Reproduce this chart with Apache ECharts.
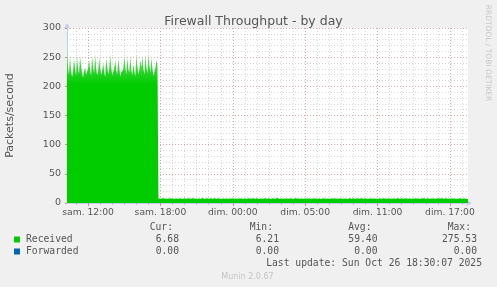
<!DOCTYPE html>
<html>
<head>
<meta charset="utf-8">
<script src="https://cdn.jsdelivr.net/npm/echarts@6/dist/echarts.min.js"></script>
<style>
html,body{margin:0;padding:0;background:#f0f0f0;}
#chart{width:497px;height:287px;}
</style>
</head>
<body>
<div id="chart"></div>
<script>
// ---- data ----
const titleText = 'Firewall Throughput - by day';
const yAxisName = 'Packets/second';
const tickLabels = ['sam. 12:00', 'sam. 18:00', 'dim. 00:00', 'dim. 05:00', 'dim. 11:00', 'dim. 17:00'];
const seriesNames = ['Received', 'Forwarded'];
const statCur = [6.68, 0.00];
const statMin = [6.21, 0.00];
const statAvg = [59.40, 0.00];
const statMax = [275.53, 0.00];
const lastUpdate = 'Last update: Sun Oct 26 18:30:07 2025';
const versionText = 'Munin 2.0.67';
const sideText = 'RRDTOOL / TOBI OETIKER';

// one value per 5-minute slot, starting sam. 10:15
const received = [
  275.5, 234, 220, 252, 228, 216, 224, 248, 232, 218, 253, 230, 221, 252, 236, 222, 215, 226, 232, 220,
  223, 231, 246, 228, 218, 252, 233, 222, 255, 231, 219, 226, 250, 232, 220, 227, 240, 224, 216, 248,
  235, 221, 229, 255, 233, 218, 225, 231, 245, 228, 220, 248, 232, 217, 224, 221, 229, 252, 234, 220,
  250, 230, 223, 252, 228, 219, 238, 226, 217, 255, 235, 221, 228, 245, 232, 252, 231, 220, 255, 233,
  222, 255, 236, 224, 250, 230, 218, 225, 232, 245, 236,
  7.6, 8.1, 7.4, 7.9, 8.3, 7.2, 7.7, 8.0, 7.5, 7.1, 7.8, 8.2, 7.6, 7.3, 7.9, 8.4, 7.5, 7.0, 7.7, 8.1,
  7.4, 7.8, 8.2, 7.3, 6.9, 7.6, 8.0, 7.7, 7.2, 7.9, 8.3, 7.5, 7.1, 7.8, 8.0, 7.4, 7.6, 8.2, 7.3, 7.0,
  7.7, 8.1, 7.5, 7.9, 8.4, 7.2, 6.8, 7.6, 8.0, 7.8, 7.3, 7.5, 8.2, 7.9, 7.1, 7.4, 8.0, 7.7, 7.2, 7.9,
  8.3, 7.6, 7.0, 7.5, 7.9, 8.1, 7.4, 7.2, 7.8, 8.2, 7.5, 6.9, 7.7, 8.0, 7.6, 7.3, 7.9, 8.3, 7.4, 7.1,
  7.6, 8.0, 7.8, 7.2, 7.5, 8.1, 7.7, 6.7, 7.4, 7.9, 8.2, 7.5, 7.3, 7.8, 8.0, 7.6, 7.1, 7.7, 8.3, 7.4,
  7.0, 7.6, 7.9, 8.1, 7.3, 7.5, 8.0, 7.7, 7.2, 7.8, 8.2, 7.4, 6.9, 7.6, 8.0, 7.5, 7.3, 7.9, 8.4, 7.6,
  7.1, 7.5, 7.8, 8.1, 7.4, 7.2, 7.9, 8.0, 7.6, 6.2, 7.3, 7.8, 8.2, 7.5, 7.0, 7.7, 8.0, 7.4, 7.6, 8.1,
  7.3, 7.1, 7.8, 8.3, 7.5, 7.2, 7.7, 8.0, 7.6, 7.4, 7.9, 8.2, 7.3, 6.9, 7.6, 8.0, 7.8, 7.2, 7.5, 8.1,
  7.7, 7.3, 7.0, 7.6, 8.0, 7.9, 7.4, 7.2, 7.8, 8.3, 7.5, 7.1, 7.7, 8.1, 7.6, 7.3, 7.9, 8.2, 7.4, 7.0,
  7.6, 8.0, 7.7, 7.3, 7.5, 8.1, 7.8, 7.2, 6.8, 7.6, 8.0, 7.5, 7.4, 7.9, 8.2, 7.6, 7.1, 7.7, 8.0, 7.4,
  7.2, 7.8, 8.1, 7.5, 7.3, 7.9, 8.3, 7.6, 7.0, 7.4, 7.8, 8.0, 7.7, 7.2, 7.5, 8.2, 7.9, 7.3, 6.9, 7.6,
  8.0, 7.5, 7.2, 7.7, 8.1, 7.8, 7.4, 7.1, 7.6, 8.0, 7.9, 7.3, 7.5, 8.2, 7.6, 7.0, 7.4, 7.8, 8.1, 7.5,
  7.3, 7.9, 8.0, 7.6, 7.2, 7.7, 8.3, 7.5, 7.1, 7.6, 7.9, 8.1, 7.4, 6.9, 7.7, 8.0, 7.6, 7.3, 7.8, 8.2,
  7.5, 7.1, 7.6, 7.9, 8.0, 7.4, 7.2, 7.8, 8.1, 7.6, 7.3, 7.5, 7.9, 8.2, 7.7, 7.0, 7.4, 7.8, 8.0, 7.5,
  7.6, 7.9, 8.2, 7.4, 7.1, 7.7, 8.0, 7.5, 7.3,
  7.2, 7.7, 8.1, 7.6, 7.3, 7.8, 8.0, 7.4, 6.9, 7.5, 7.9, 8.2, 7.6, 7.1, 7.4, 7.8, 8.0, 7.5, 7.2, 6.68
];

// time-slot categories (5 min steps from sam. 10:15, DST fall-back at dim. 03:00)
function pad(n){ return (n < 10 ? '0' : '') + n; }
const categories = [];
(function(){
  let day = 0, m = 10 * 60 + 15, dstDone = false;
  for (let i = 0; i < received.length; i++) {
    categories.push((day ? 'dim. ' : 'sam. ') + pad(Math.floor(m / 60)) + ':' + pad(m % 60));
    m += 5;
    if (m >= 1440) { m -= 1440; day = 1; }
    if (day === 1 && !dstDone && m === 180) { m = 120; dstDone = true; }
  }
})();

const isMajor = (i, v) => tickLabels.indexOf(v) >= 0;
const isMinor = (i, v) => v.slice(-3) === ':00' && tickLabels.indexOf(v) < 0;

const colRecv = '#00cc00', colFwd = '#0066b3';
const textCol = '#555';
const mono = '9.7px "DejaVu Sans Mono"';
const swatchColors = [colRecv, colFwd];

const graphics = [];
const rowY = [239.5, 251.5];
const colRight = { cur: 179, min: 279, avg: 377.5, max: 477 };
const headerY = 227.5;
[['Cur:', colRight.cur], ['Min:', colRight.min], ['Avg:', colRight.avg], ['Max:', colRight.max]].forEach(h => {
  graphics.push({ type: 'text', x: h[1] - 6, y: headerY, style: { text: h[0], font: mono, fill: textCol, align: 'right', verticalAlign: 'middle' } });
});
seriesNames.forEach((name, k) => {
  graphics.push({ type: 'rect', shape: { x: 14, y: rowY[k] - 3, width: 6, height: 6 }, style: { fill: swatchColors[k] } });
  graphics.push({ type: 'text', x: 26, y: rowY[k], style: { text: name, font: mono, fill: textCol, align: 'left', verticalAlign: 'middle' } });
  [[statCur, colRight.cur], [statMin, colRight.min], [statAvg, colRight.avg], [statMax, colRight.max]].forEach(c => {
    graphics.push({ type: 'text', x: c[1], y: rowY[k], style: { text: c[0][k].toFixed(2), font: mono, fill: textCol, align: 'right', verticalAlign: 'middle' } });
  });
});
graphics.push({ type: 'text', x: 482, y: 263.5, style: { text: lastUpdate, font: mono, fill: textCol, align: 'right', verticalAlign: 'middle' } });
graphics.push({ type: 'text', x: 247.5, y: 276.5, style: { text: versionText, font: '8px "DejaVu Sans"', fill: '#c4c4c4', align: 'center', verticalAlign: 'middle' } });
graphics.push({ type: 'text', x: 487.5, y: 53, rotation: -Math.PI / 2, style: { text: sideText, font: '7.5px "DejaVu Sans"', fill: '#c8c8c8', align: 'center', verticalAlign: 'middle' } });

const axisCol = '#c4ccee';
const majorGrid = { show: true, lineStyle: { color: '#e2a4a4', type: [1, 2], width: 1 } };
const minorGrid = { show: true, lineStyle: { color: '#d8d8d8', type: [1, 2], width: 1 } };

const chart = echarts.init(document.getElementById('chart'), null, { renderer: 'canvas' });
chart.setOption({
  backgroundColor: '#f0f0f0',
  animation: false,
  title: {
    text: titleText, left: 248.5, top: 10, textAlign: 'center',
    textStyle: { fontFamily: 'DejaVu Sans', fontSize: 12.5, fontWeight: 'normal', color: '#555' }
  },
  grid: { left: 67, top: 28, right: 29, bottom: 84, show: true, backgroundColor: '#ffffff', borderWidth: 0,
          containLabel: false, outerBoundsMode: 'none' },
  xAxis: [
    {
      type: 'category', data: categories, boundaryGap: false, z: 1,
      axisLine: { show: true, lineStyle: { color: axisCol, width: 1 }, symbol: ['none', 'arrow'], symbolSize: [5, 6], symbolOffset: [0, 4] },
      axisTick: { show: true, interval: isMinor, length: 2, lineStyle: { color: '#bbb' } },
      axisLabel: { interval: isMajor, margin: 5, color: textCol, fontFamily: 'DejaVu Sans', fontSize: 9.2, hideOverlap: false },
      splitLine: Object.assign({ interval: isMinor }, minorGrid)
    },
    {
      type: 'category', data: categories, boundaryGap: false, position: 'bottom', z: 2,
      axisLine: { show: false },
      axisTick: { show: true, interval: isMajor, length: 3, lineStyle: { color: '#d88' } },
      axisLabel: { show: false },
      splitLine: Object.assign({ interval: isMajor }, majorGrid)
    }
  ],
  yAxis: {
    type: 'value', min: 0, max: 300, interval: 50, name: yAxisName,
    nameLocation: 'middle', nameGap: 51, nameRotate: 90,
    nameTextStyle: { fontFamily: 'DejaVu Sans', fontSize: 11, color: textCol },
    axisLine: { show: true, lineStyle: { color: axisCol, width: 1 }, symbol: ['none', 'arrow'], symbolSize: [5, 6], symbolOffset: [0, 5] },
    axisTick: { show: true, length: 2, lineStyle: { color: '#d88' } },
    axisLabel: { margin: 6, color: textCol, fontFamily: 'DejaVu Sans', fontSize: 9.5 },
    splitLine: majorGrid,
    minorTick: { show: false, splitNumber: 5 },
    minorSplitLine: minorGrid
  },
  graphic: graphics,
  series: [
    {
      name: seriesNames[0], type: 'line', data: received, xAxisIndex: 0,
      showSymbol: false, symbol: 'none', sampling: null, z: 3,
      lineStyle: { width: 0, color: colRecv },
      areaStyle: {
        opacity: 1,
        color: new echarts.graphic.LinearGradient(0, 46, 0, 84, [
          { offset: 0, color: '#b4eeb4' },
          { offset: 0.55, color: '#3cd43c' },
          { offset: 1, color: '#00cc00' }
        ], true)
      }
    }
  ]
});
</script>
</body>
</html>
